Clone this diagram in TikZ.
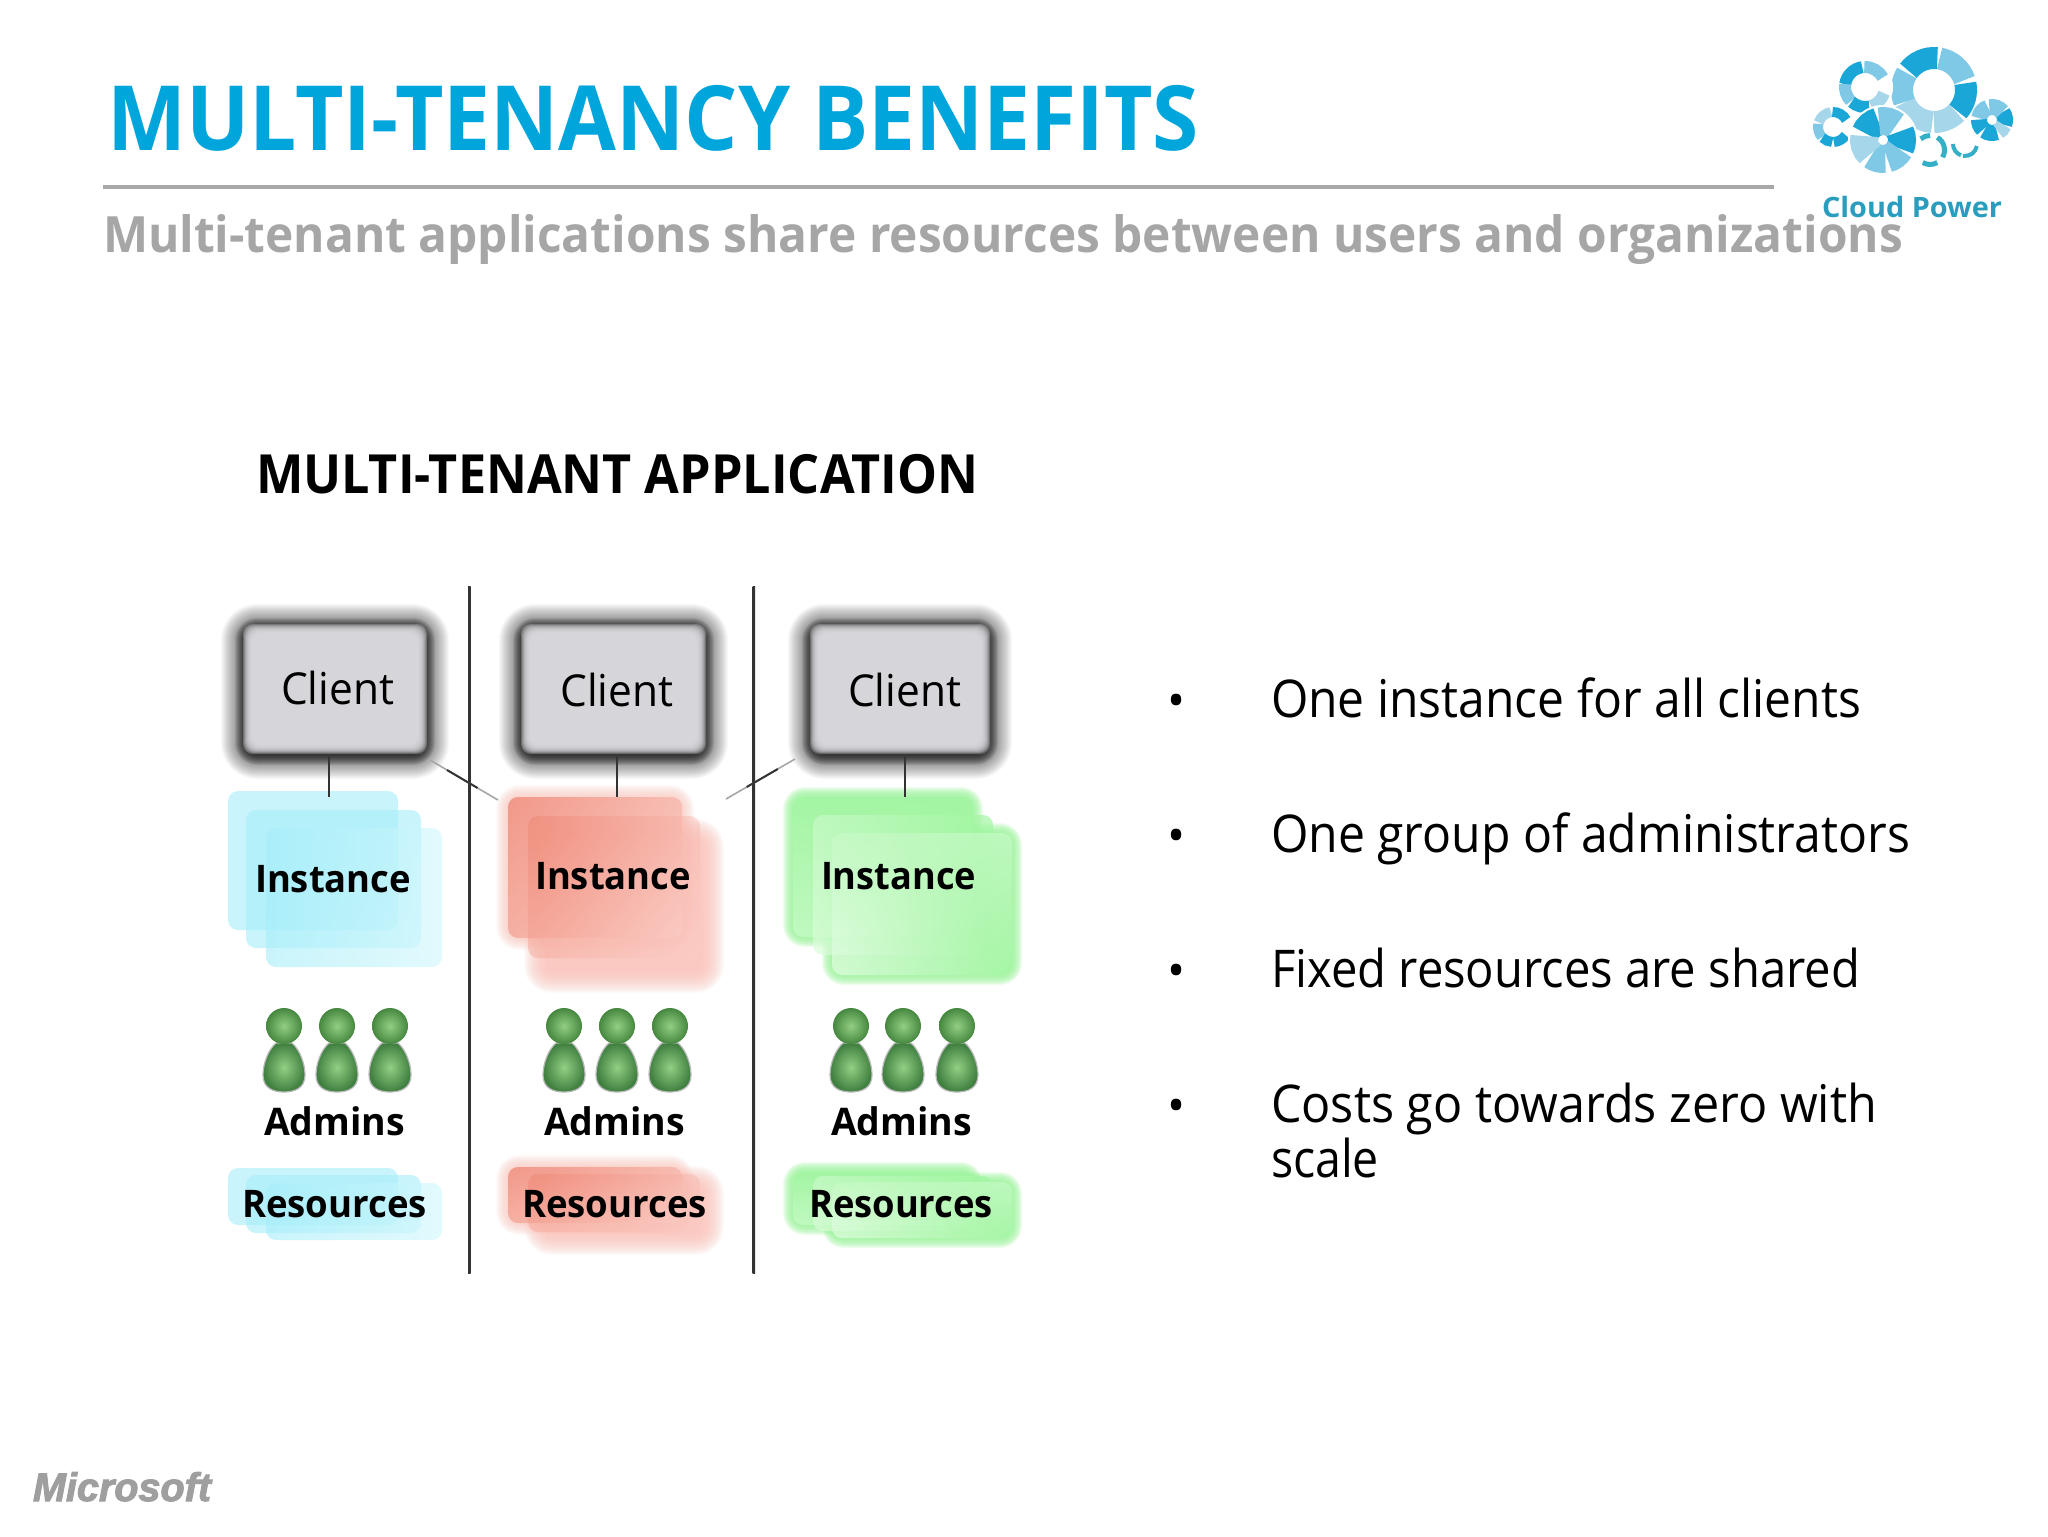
\documentclass[tikz,border=0pt]{standalone}
\usepackage{fontspec}
\setmainfont{Open Sans}
\newfontfamily\msfont[UprightFont=* Bold Italic,FakeBold=2.5]{Liberation Sans}
\usetikzlibrary{calc,shadings}
\definecolor{titleblue}{HTML}{00A5DB}
\definecolor{rulegrey}{HTML}{A8A8A8}
\definecolor{subgrey}{HTML}{A6A6A6}
\definecolor{logodark}{HTML}{1AA7D8}
\definecolor{logolight}{HTML}{7FC9E6}
\definecolor{logopale}{HTML}{A5D6EA}
\definecolor{logoteal}{HTML}{34AFC6}
\definecolor{logotext}{HTML}{2A9DBF}
\definecolor{boxfill}{HTML}{DCDBE0}
\definecolor{lnlight}{HTML}{C0C0C0}
\definecolor{lndark}{HTML}{333333}
\definecolor{bodyin}{HTML}{93CF84}
\definecolor{bodyout}{HTML}{3F7F3F}
\definecolor{headin}{HTML}{93CF84}
\definecolor{headout}{HTML}{46873F}
\definecolor{blueA}{HTML}{A5EEFA}
\definecolor{blueB}{HTML}{C0F3FB}
\definecolor{blueC}{HTML}{CFF7FC}
\definecolor{redA}{HTML}{EE7D6A}
\definecolor{redB}{HTML}{F7B3A8}
\definecolor{redC}{HTML}{F4A090}
\definecolor{redD}{HTML}{FBD0C9}
\definecolor{redE}{HTML}{FDE3DF}
\definecolor{redglow}{HTML}{FAC4BB}
\definecolor{greenA}{HTML}{A2F6A2}
\definecolor{greenB}{HTML}{C8FAC8}
\definecolor{greenC}{HTML}{DDFCDD}
\definecolor{greenD}{HTML}{E8FDE8}
\definecolor{greenglow}{HTML}{98F598}
\pgfdeclareverticalshading{vline}{100bp}{color(0bp)=(lnlight); color(20bp)=(lndark); color(80bp)=(lndark); color(100bp)=(lnlight)}
\newcommand{\fitw}[2]{\resizebox{#1}{\height}{#2}}
% x1 y1 x2 y2 startexpansion layers colour alpha
\newcommand{\softrect}[8]{%
  \foreach \k in {1,...,#6}{%
    \pgfmathsetmacro{\ee}{#5-(\k-1)}%
    \pgfmathsetmacro{\rr}{max(2,6+0.5*\ee)}%
    \fill[#7,fill opacity=#8,rounded corners=\rr pt] ({#1-\ee},{#2-\ee}) rectangle ({#3+\ee},{#4+\ee});
  }}
% x1 y1 x2 y2 UL UR LL LR alpha
\newcommand{\pane}[9]{%
  \shade[upper left=#5,upper right=#6,lower left=#7,lower right=#8,fill opacity=#9,rounded corners=5pt] (#1,#2) rectangle (#3,#4);}
% cx cy r1 r2 a b colour  (visual angles)
\newcommand{\seg}[7]{%
  \pgfmathsetmacro{\rmid}{(#3+#4)/2}\pgfmathsetmacro{\lw}{(#4-#3)*0.5}%
  \draw[#7,line width=\lw pt] ($(#1,#2)+({-(#5)}:\rmid)$) arc[start angle={-(#5)},end angle={-(#6)},radius=\rmid];}
\newcommand{\person}[1]{%
  \shade[inner color=bodyin,outer color=bodyout,draw=gray!55,line width=.6pt]
    (#1-8,1043) .. controls (#1-16,1050) and (#1-21,1064) .. (#1-21,1075)
    .. controls (#1-21,1088) and (#1-11,1092) .. (#1,1092)
    .. controls (#1+11,1092) and (#1+21,1088) .. (#1+21,1075)
    .. controls (#1+21,1064) and (#1+16,1050) .. (#1+8,1043) -- cycle;
  \shade[inner color=headin,outer color=headout] (#1,1026) circle[radius=18];}
\tikzset{
  txt/.style={inner sep=0pt,outer sep=0pt,anchor=base west},
  clientbox/.style={inner sep=0pt,outer sep=0pt,font=\fontsize{22}{26}\selectfont,text=black},
  boldlabel/.style={inner sep=0pt,outer sep=0pt,anchor=base west,font=\fontsize{19}{23}\selectfont\bfseries,text=black},
  bodytext/.style={inner sep=0pt,outer sep=0pt,anchor=base west,font=\fontsize{26}{30}\selectfont,text=black},
  bulletmark/.style={inner sep=0pt,outer sep=0pt,anchor=base,font=\fontsize{24}{28}\selectfont,text=black},
  tie/.style={line width=1pt,color=lndark},
  tiefade/.style={line width=.8pt,color=gray!70}
}
\begin{document}
\begin{tikzpicture}[x=0.5pt,y=-0.5pt]
\useasboundingbox (0,0) rectangle (2048,1536);
\fill[white] (0,0) rectangle (2048,1536);
% ---- header
\node[txt,text=titleblue,font=\fontsize{45}{50}\selectfont\bfseries] (title) at (107,150) {\fitw{546pt}{MULTI-TENANCY BENEFITS}};
\draw[rulegrey,line width=2pt] (103,187) -- (1774,187);
% ---- logo
\begin{scope}[yshift=-1pt]
\fill[white] (1934,88) circle[radius=46];
\foreach \a/\b/\c in {84/143/logodark,18/80/logolight,-42/12/logodark,-90/-45/logopale,203/267/logopale,148/202/logolight}{\seg{1934}{88}{21}{43}{\a}{\b}{\c}}
\fill[white] (1865,85) circle[radius=28];
\foreach \a/\b/\c in {98/172/logodark,28/92/logolight,172/225/logolight,228/282/logodark,288/342/logopale}{\seg{1865}{85}{14}{26}{\a}{\b}{\c}}
\fill[white] (1833,125) circle[radius=22];
\foreach \a/\b/\c in {98/162/logopale,28/92/logodark,168/222/logolight,225/267/logodark,273/327/logodark}{\seg{1833}{125}{10}{20}{\a}{\b}{\c}}
\fill[white] (1883,138) circle[radius=35];
\foreach \a/\b/\c in {104/159/logodark,48/102/logolight,-27/27/logodark,-77/-29/logolight,-127/-83/logolight,168/228/logopale}{\seg{1883}{138}{5}{33}{\a}{\b}{\c}}
\foreach \a/\b/\c in {-30/60/logoteal,-120/-60/logoteal,90/130/logoteal}{\seg{1930}{148}{12}{17}{\a}{\b}{\c}}
\foreach \a/\b/\c in {180/250/logoteal,260/350/logoteal}{\seg{1965}{142}{10}{14}{\a}{\b}{\c}}
\foreach \a/\b/\c in {-22/37/logodark,38/102/logolight,108/172/logolight,178/227/logodark,233/292/logodark,298/337/logopale}{\seg{1992}{118}{5}{21}{\a}{\b}{\c}}
\end{scope}
\node[txt,text=logotext,font=\fontsize{14}{16}\selectfont\bfseries] (cloudpower) at (1822,217) {\fitw{90pt}{Cloud Power}};
\node[txt,text=subgrey,font=\fontsize{25}{30}\selectfont\bfseries] (subtitle) at (103,252) {\fitw{900pt}{Multi-tenant applications share resources between users and organizations}};
% ---- heading
\node[txt,text=black,font=\fontsize{27}{32}\selectfont\bfseries] (heading) at (256,493) {\fitw{361pt}{MULTI-TENANT APPLICATION}};
% ---- separators
\shade[shading=vline] (468,586) rectangle (470.5,1273);
\shade[shading=vline] (752.5,586) rectangle (755,1273);
% ---- blue panes
\foreach \ya/\yb/\yc/\yd/\ye/\yf in {791/930/810/948/828/967,1168/1225/1175/1233/1183/1240}{
  \pane{228}{\ya}{398}{\yb}{blueA}{blueA}{blueA}{blueA}{0.6}
  \pane{246}{\yc}{421}{\yd}{blueA}{blueA}{blueA}{blueB}{0.6}
  \pane{266}{\ye}{442}{\yf}{blueA}{blueC}{blueA}{blueC}{0.6}
}
% ---- red panes
\foreach \ya/\yb/\yc/\yd/\ye/\yf in {797/938/816/958/835/977,1167/1223/1174/1232/1182/1239}{
  \softrect{508}{\ya}{682}{\yb}{12}{12}{redglow}{0.08}
  \softrect{540}{\ye}{708}{\yf}{16}{24}{redglow}{0.07}
  \pane{508}{\ya}{682}{\yb}{redA}{redB}{redC}{redD}{0.7}
  \pane{528}{\yc}{700}{\yd}{redA}{redB}{redC}{redD}{0.4}
}
% ---- green panes
\foreach \ya/\yb/\yc/\yd/\ye/\yf in {797/937/815/955/833/975,1172/1225/1176/1231/1182/1238}{
  \softrect{793}{\ya}{973}{\yb}{10}{10}{greenglow}{0.15}
  \softrect{832}{\ye}{1012}{\yf}{10}{10}{greenglow}{0.15}
  \pane{793}{\ya}{973}{\yb}{greenA}{greenA}{greenB}{greenA}{0.8}
  \pane{813}{\yc}{993}{\yd}{greenB}{greenA}{greenC}{greenA}{0.7}
  \pane{832}{\ye}{1012}{\yf}{greenB}{greenB}{greenD}{greenA}{0.65}
}
% ---- clients
\foreach \xa/\xb in {245/425,523/704,812/988}{
  \softrect{\xa}{628}{\xb}{755}{24}{24}{black}{0.028}
  \softrect{\xa}{628}{\xb}{755}{10}{12}{black}{0.07}
  \foreach \j in {1,...,10}{
    \pgfmathsetmacro{\ii}{\j-3}
    \fill[boxfill,fill opacity=0.3,rounded corners=5pt] ({\xa+\ii},{626+\ii}) rectangle ({\xb-\ii},{752-\ii});
  }
}
\node[clientbox] (c1) at (337.5,688) {\fitw{56.5pt}{Client}};
\node[clientbox] (c2) at (617,690) {\fitw{56.5pt}{Client}};
\node[clientbox] (c3) at (904.5,690) {\fitw{56.5pt}{Client}};
% ---- instance labels
\node[boldlabel] (i1) at (255,892) {\fitw{78pt}{Instance}};
\node[boldlabel] (i2) at (535,889) {\fitw{78pt}{Instance}};
\node[boldlabel] (i3) at (821,889) {\fitw{77.5pt}{Instance}};
% ---- connectors
\coordinate (s1) at (329,757); \coordinate (s2) at (617,757); \coordinate (s3) at (905,757);
\coordinate (t1) at (329,797); \coordinate (t2) at (617,797); \coordinate (t3) at (905,797);
\coordinate (d1a) at (430,760); \coordinate (d1b) at (498,800);
\coordinate (d2a) at (795,759); \coordinate (d2b) at (726,799);
\draw[tie] (s1) -- (t1);
\draw[tie] (s2) -- (t2);
\draw[tie] (s3) -- (t3);
\draw[tiefade] (d1a) -- (d1b);
\draw[tie] ($(d1a)!0.25!(d1b)$) -- ($(d1a)!0.7!(d1b)$);
\draw[tiefade] (d2a) -- (d2b);
\draw[tie] ($(d2a)!0.25!(d2b)$) -- ($(d2a)!0.7!(d2b)$);
% ---- people
\foreach \px in {284,337,390,564,617,670,851,903,957}{\person{\px}}
\node[boldlabel] (a1) at (264,1135) {\fitw{70.5pt}{Admins}};
\node[boldlabel] (a2) at (544,1135) {\fitw{70.5pt}{Admins}};
\node[boldlabel] (a3) at (831,1135) {\fitw{70.5pt}{Admins}};
\node[boldlabel] (r1) at (242,1217) {\fitw{92.5pt}{Resources}};
\node[boldlabel] (r2) at (522,1217) {\fitw{92.5pt}{Resources}};
\node[boldlabel] (r3) at (809,1217) {\fitw{92pt}{Resources}};
% ---- bullets
\node[bulletmark] (b1) at (1177,717) {•};
\node[bulletmark] (b2) at (1177,852) {•};
\node[bulletmark] (b3) at (1177,987) {•};
\node[bulletmark] (b4) at (1177,1122) {•};
\node[bodytext] (l1) at (1271,717) {\fitw{295pt}{One instance for all clients}};
\node[bodytext] (l2) at (1271,852) {\fitw{319.5pt}{One group of administrators}};
\node[bodytext] (l3) at (1271,987) {\fitw{294.5pt}{Fixed resources are shared}};
\node[bodytext] (l4) at (1271,1122) {\fitw{303pt}{Costs go towards zero with}};
\node[bodytext] (l5) at (1271,1177) {\fitw{54pt}{scale}};
% ---- footer
\node[txt,text=gray!75,font=\msfont\fontsize{20}{24}\selectfont] (ms) at (33,1501) {\fitw{89pt}{Microsoft}};
\end{tikzpicture}
\end{document}
